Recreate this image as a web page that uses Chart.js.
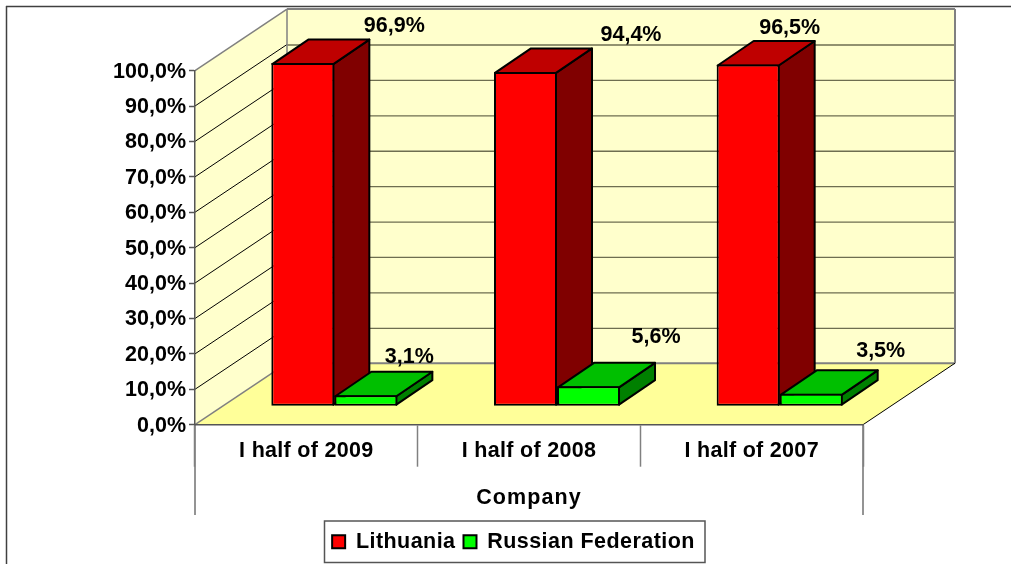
<!DOCTYPE html>
<html>
<head>
<meta charset="utf-8">
<style>
  html, body { margin: 0; padding: 0; background: #fff; }
  #wrap { width: 1011px; height: 564px; }
</style>
<script src="https://cdn.jsdelivr.net/npm/chart.js@4/dist/chart.umd.min.js"></script>
</head>
<body>
<div id="wrap"><canvas id="shareChart"></canvas></div>
<script>
var categories = ['I half of 2009', 'I half of 2008', 'I half of 2007'];
var lithuania = [96.9, 94.4, 96.5];
var russia = [3.1, 5.6, 3.5];
var yTickLabels = ['0,0%', '10,0%', '20,0%', '30,0%', '40,0%', '50,0%', '60,0%', '70,0%', '80,0%', '90,0%', '100,0%'];
var lithuaniaLabels = ['96,9%', '94,4%', '96,5%'];
var russiaLabels = ['3,1%', '5,6%', '3,5%'];

// label nudges from the rear top right corner of each bar
var lithuaniaNudge = [[24, -12], [38, -12], [-26, -12]];
var russiaNudge = [[-24, -14], [0, -25], [2, -18]];

var FONT = 'bold 21.5px "Liberation Sans", Arial, sans-serif';
var WALL_DX = 92, WALL_DY = -61.5;   // depth of the box
var BAR_DX = 28, BAR_DY = -18.5;     // where the bars stand on the floor
var DEPTH_DX = 36, DEPTH_DY = -24.5; // depth of a bar

function poly(ctx, pts, fill, stroke, lw) {
    ctx.beginPath();
    pts.forEach(function (p, i) { i ? ctx.lineTo(p[0], p[1]) : ctx.moveTo(p[0], p[1]); });
    ctx.closePath();
    if (fill) { ctx.fillStyle = fill; ctx.fill(); }
    if (stroke) { ctx.strokeStyle = stroke; ctx.lineWidth = lw; ctx.lineJoin = 'round'; ctx.stroke(); }
}

function line(ctx, x1, y1, x2, y2, color, lw) {
    ctx.beginPath();
    ctx.moveTo(x1, y1);
    ctx.lineTo(x2, y2);
    ctx.strokeStyle = color;
    ctx.lineWidth = lw;
    ctx.stroke();
}

// Chart.js has no letter spacing option, the original text is set wider
function spaced(ctx, obj, method, spacing) {
    var orig = obj[method];
    obj[method] = function () {
        ctx.letterSpacing = spacing;
        orig.apply(this, arguments);
        ctx.letterSpacing = '0px';
    };
}

var box3d = {
    id: 'box3d',
    beforeLayout: function (chart) { chart.ctx.letterSpacing = '0.45px'; },
    afterLayout: function (chart) {
        var ctx = chart.ctx;
        ctx.letterSpacing = '0px';
        var lg = chart.legend;
        var h = lg.bottom - lg.top;
        lg.left += 82; lg.right += 82;
        lg.top = 523; lg.bottom = 523 + h;
        if (!chart.$spaced) {
            chart.$spaced = true;
            spaced(ctx, lg, 'draw', '0.45px');
            spaced(ctx, chart.scales.x, 'drawTitle', '1.1px');
            spaced(ctx, chart.scales.x, 'drawLabels', '0.3px');
            // y labels sit a pixel lower than the canvas middle baseline
            var drawY = chart.scales.y.drawLabels;
            chart.scales.y.drawLabels = function (area) {
                ctx.save();
                ctx.translate(0, 1);
                drawY.call(this, area);
                ctx.restore();
            };
        }
    },
    beforeDraw: function (chart) {
        var ctx = chart.ctx, x = chart.scales.x, y = chart.scales.y;
        var l = x.left, r = x.right, t = y.top, b = y.bottom;
        ctx.save();
        // outer frame, only top and left are visible
        line(ctx, 6, 6.5, 1011, 6.5, '#404040', 1.5);
        line(ctx, 6.5, 6, 6.5, 564, '#404040', 1.5);
        // walls and floor
        poly(ctx, [[l, t], [l + WALL_DX, t + WALL_DY], [l + WALL_DX, b + WALL_DY], [l, b]], '#ffffcc');
        poly(ctx, [[l + WALL_DX, t + WALL_DY], [r + WALL_DX, t + WALL_DY], [r + WALL_DX, b + WALL_DY], [l + WALL_DX, b + WALL_DY]], '#ffffcc');
        poly(ctx, [[l, b], [l + WALL_DX, b + WALL_DY], [r + WALL_DX, b + WALL_DY], [r, b]], '#ffff99');
        // grid lines run along the side wall and across the back wall
        y.ticks.forEach(function (tick) {
            if (tick.value === 0 || tick.value === 100) return;
            var py = y.getPixelForValue(tick.value);
            line(ctx, l, py, l + WALL_DX, py + WALL_DY, '#000', 1);
            line(ctx, l + WALL_DX, py + WALL_DY + 0.5, r + WALL_DX, py + WALL_DY + 0.5, '#6e6e50', 1.3);
        });
        // box edges
        line(ctx, l, t, l + WALL_DX, t + WALL_DY, '#808080', 1.5);
        line(ctx, l, b, l + WALL_DX, b + WALL_DY, '#808080', 1.5);
        line(ctx, l + WALL_DX, t + WALL_DY, l + WALL_DX, b + WALL_DY, '#808080', 1.5);
        line(ctx, l + WALL_DX, t + WALL_DY, r + WALL_DX, t + WALL_DY, '#808080', 2);
        line(ctx, r + WALL_DX, t + WALL_DY, r + WALL_DX, b + WALL_DY, '#808080', 2);
        line(ctx, l + WALL_DX, b + WALL_DY, r + WALL_DX, b + WALL_DY, '#808080', 2);
        line(ctx, r, b, r + WALL_DX, b + WALL_DY, '#000', 1);
        // long outer ticks below the category labels
        line(ctx, l, b, l, 515, '#707070', 1.5);
        line(ctx, r, b, r, 515, '#707070', 1.5);
        // legend frame
        ctx.strokeStyle = '#555';
        ctx.lineWidth = 1.5;
        ctx.strokeRect(324.5, 521, 380.5, 41.5);
        ctx.restore();
    },
    beforeDatasetsDraw: function (chart) {
        var ctx = chart.ctx;
        ctx.save();
        ctx.translate(BAR_DX, BAR_DY);
        // bar sides and tops, the fronts are the chart's own bars
        chart.data.datasets.forEach(function (ds, i) {
            chart.getDatasetMeta(i).data.forEach(function (bar) {
                var p = bar.getProps(['x', 'y', 'base', 'width'], true);
                var x0 = p.x - p.width / 2 + 1, x1 = p.x + p.width / 2 - 1, top = p.y + 1, base = p.base - 1;
                poly(ctx, [[x1, top], [x1 + DEPTH_DX, top + DEPTH_DY], [x1 + DEPTH_DX, base + DEPTH_DY], [x1, base]], ds.sideColor, '#000', 2);
                poly(ctx, [[x0, top], [x0 + DEPTH_DX, top + DEPTH_DY], [x1 + DEPTH_DX, top + DEPTH_DY], [x1, top]], ds.topColor, '#000', 2);
            });
        });
    },
    afterDatasetsDraw: function (chart) {
        var ctx = chart.ctx;
        ctx.restore();
        ctx.save();
        ctx.font = FONT;
        ctx.fillStyle = '#000';
        ctx.textAlign = 'center';
        ctx.textBaseline = 'middle';
        chart.data.datasets.forEach(function (ds, i) {
            chart.getDatasetMeta(i).data.forEach(function (bar, j) {
                var p = bar.getProps(['x', 'y', 'width'], true);
                var cx = p.x + p.width / 2 + BAR_DX + DEPTH_DX + ds.nudge[j][0];
                var cy = p.y + BAR_DY + DEPTH_DY + ds.nudge[j][1];
                ctx.fillText(ds.valueLabels[j], cx, cy);
            });
        });
        ctx.restore();
    }
};

var tickFont = { family: '"Liberation Sans", Arial, sans-serif', size: 21.5, weight: 'bold' };

new Chart(document.getElementById('shareChart'), {
    type: 'bar',
    data: {
        labels: categories,
        datasets: [{
            label: 'Lithuania',
            data: lithuania,
            backgroundColor: '#ff0000',
            topColor: '#bf0000',
            sideColor: '#800000',
            valueLabels: lithuaniaLabels,
            nudge: lithuaniaNudge
        }, {
            label: 'Russian Federation',
            data: russia,
            backgroundColor: '#00ff00',
            topColor: '#00bf00',
            sideColor: '#008000',
            valueLabels: russiaLabels,
            nudge: russiaNudge
        }]
    },
    options: {
        responsive: true,
        maintainAspectRatio: false,
        animation: false,
        layout: { padding: { left: 0, right: 148, top: 70.6, bottom: 0 } },
        datasets: {
            bar: {
                clip: false,
                categoryPercentage: 0.566,
                barPercentage: 1,
                borderColor: '#000',
                borderWidth: 2,
                borderSkipped: false
            }
        },
        scales: {
            y: {
                min: 0,
                max: 100,
                ticks: {
                    stepSize: 10,
                    color: '#000',
                    font: tickFont,
                    padding: 3,
                    callback: function (v, i) { return yTickLabels[i]; }
                },
                grid: { drawOnChartArea: false, tickLength: 6, tickColor: '#555', tickWidth: 1.5 },
                border: { color: '#555', width: 1.5 },
                afterFit: function (scale) { scale.width = 195; }
            },
            x: {
                ticks: { color: '#000', font: tickFont, padding: -29, maxRotation: 0 },
                grid: { drawOnChartArea: false, tickLength: 42, tickColor: '#808080', tickWidth: 1.5, offset: true },
                border: { color: '#555', width: 1.5 },
                title: {
                    display: true,
                    text: 'Company',
                    color: '#000',
                    font: tickFont,
                    padding: { top: 0, bottom: 14 }
                },
                afterFit: function (scale) { scale.height = 564 - 424.7 - scale.chart.legend.height; }
            }
        },
        plugins: {
            tooltip: { enabled: false },
            legend: {
                position: 'bottom',
                labels: {
                    font: tickFont,
                    color: '#000',
                    boxWidth: 13,
                    boxHeight: 13,
                    padding: 8
                }
            }
        }
    },
    plugins: [box3d]
});
</script>
</body>
</html>
